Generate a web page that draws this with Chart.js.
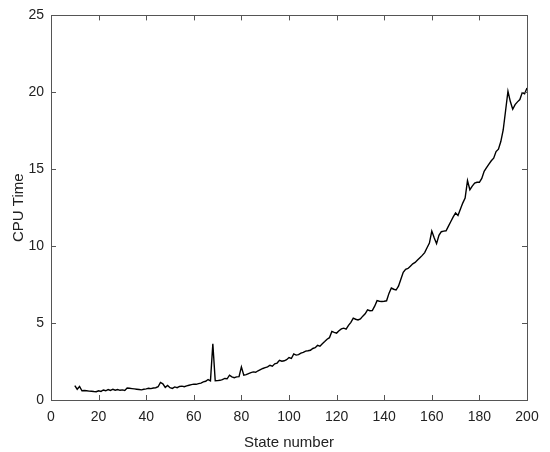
<!DOCTYPE html>
<html>
<head>
<meta charset="utf-8">
<script src="https://cdn.jsdelivr.net/npm/chart.js@4"></script>
<style>
  html, body { margin:0; padding:0; background:#fff; }
  #wrap { width:550px; height:452px; }
</style>
</head>
<body>
<div id="wrap"><canvas id="cpuChart" width="550" height="452"></canvas></div>
<script>
// state numbers 10..200
const stateNumbers = [];
for (let s = 10; s <= 200; s++) stateNumbers.push(s);

// CPU time, one value per state
const cpuTime = [
  0.93, 0.70, 0.88, 0.60, 0.62, 0.60, 0.58, 0.57, 0.55, 0.54,
  0.60, 0.56, 0.65, 0.60, 0.68, 0.62, 0.70, 0.64, 0.68, 0.63,
  0.66, 0.62, 0.78, 0.76, 0.74, 0.72, 0.70, 0.68, 0.66, 0.70,
  0.72, 0.76, 0.74, 0.78, 0.80, 0.86, 1.14, 1.05, 0.82, 0.95,
  0.80, 0.75, 0.85, 0.80, 0.88, 0.90, 0.86, 0.92, 0.96, 1.00,
  1.03, 1.02, 1.06, 1.10, 1.18, 1.22, 1.33, 1.25, 3.66, 1.25,
  1.26, 1.28, 1.32, 1.40, 1.38, 1.61, 1.50, 1.45, 1.50, 1.52,
  2.15, 1.61, 1.65, 1.72, 1.78, 1.83, 1.80, 1.90, 1.98, 2.05,
  2.10, 2.15, 2.26, 2.20, 2.35, 2.40, 2.58, 2.52, 2.55, 2.62,
  2.76, 2.70, 3.00, 2.92, 2.95, 3.05, 3.10, 3.18, 3.20, 3.23,
  3.35, 3.40, 3.55, 3.50, 3.66, 3.80, 3.95, 4.05, 4.46, 4.40,
  4.35, 4.50, 4.62, 4.67, 4.60, 4.85, 5.05, 5.32, 5.25, 5.20,
  5.27, 5.45, 5.60, 5.86, 5.80, 5.81, 6.10, 6.46, 6.42, 6.40,
  6.42, 6.45, 6.93, 7.28, 7.20, 7.15, 7.40, 7.85, 8.30, 8.50,
  8.55, 8.70, 8.85, 8.94, 9.10, 9.25, 9.40, 9.58, 9.90, 10.20,
  10.98, 10.55, 10.16, 10.70, 10.94, 10.98, 11.00, 11.30, 11.60, 11.90,
  12.16, 12.00, 12.40, 12.80, 13.13, 14.26, 13.67, 13.90, 14.10, 14.15,
  14.15, 14.40, 14.86, 15.10, 15.33, 15.55, 15.72, 16.15, 16.30, 16.80,
  17.55, 18.80, 20.07, 19.40, 18.90, 19.20, 19.38, 19.53, 19.98, 19.90,
  20.28
];

const xTicks = [0, 20, 40, 60, 80, 100, 120, 140, 160, 180, 200];
const yTicks = [0, 5, 10, 15, 20, 25];

const fontFam = '"Liberation Sans", Arial, Helvetica, sans-serif';
const axisColor = '#555555';
const textColor = '#222222';

// box round the plot plus inward ticks on all four sides
const boxPlugin = {
  id: 'matlabBox',
  afterDraw(chart){
    const ctx = chart.ctx, a = chart.chartArea;
    const xs = chart.scales.x, ys = chart.scales.y;
    const len = 5;
    ctx.save();
    ctx.strokeStyle = axisColor;
    ctx.lineWidth = 1;
    ctx.beginPath();
    xs.ticks.forEach(t => {
      const px = Math.round(xs.getPixelForValue(t.value)) + 0.5;
      ctx.moveTo(px, a.bottom); ctx.lineTo(px, a.bottom - len);
      ctx.moveTo(px, a.top); ctx.lineTo(px, a.top + len);
    });
    ys.ticks.forEach(t => {
      const py = Math.round(ys.getPixelForValue(t.value)) + 0.5;
      ctx.moveTo(a.left, py); ctx.lineTo(a.left + len, py);
      ctx.moveTo(a.right, py); ctx.lineTo(a.right - len, py);
    });
    ctx.stroke();
    ctx.strokeRect(Math.round(a.left) + 0.5, Math.round(a.top) + 0.5,
                   Math.round(a.right - a.left), Math.round(a.bottom - a.top));
    ctx.restore();
  }
};

new Chart(document.getElementById('cpuChart').getContext('2d'), {
  type: 'line',
  data: {
    datasets: [{
      data: stateNumbers.map((s, i) => ({x: s, y: cpuTime[i]})),
      borderColor: '#000000',
      borderWidth: 1.4,
      pointRadius: 0,
      tension: 0,
      fill: false
    }]
  },
  options: {
    responsive: false,
    animation: false,
    layout: { padding: { top: 13, right: 23, left: 0, bottom: 0 } },
    plugins: { legend: { display: false }, tooltip: { enabled: false } },
    scales: {
      x: {
        type: 'linear', min: 0, max: 200,
        afterBuildTicks: s => { s.ticks = xTicks.map(v => ({value: v})); },
        afterFit: s => { s.height = 52; },
        grid: { display: false, drawTicks: false },
        border: { display: false },
        ticks: { color: textColor, font: { family: fontFam, size: 14 }, padding: 9, maxRotation: 0 },
        title: { display: true, text: 'State number', color: textColor,
                 font: { family: fontFam, size: 15 }, padding: { top: 5, bottom: 0 } }
      },
      y: {
        type: 'linear', min: 0, max: 25,
        afterBuildTicks: s => { s.ticks = yTicks.map(v => ({value: v})); },
        afterFit: s => { s.width = 51; },
        grid: { display: false, drawTicks: false },
        border: { display: false },
        ticks: { color: textColor, font: { family: fontFam, size: 14 }, padding: 7 },
        title: { display: true, text: 'CPU Time', color: textColor,
                 font: { family: fontFam, size: 15 }, padding: { top: 10, bottom: 0 } }
      }
    }
  },
  plugins: [boxPlugin]
});
</script>
</body>
</html>
